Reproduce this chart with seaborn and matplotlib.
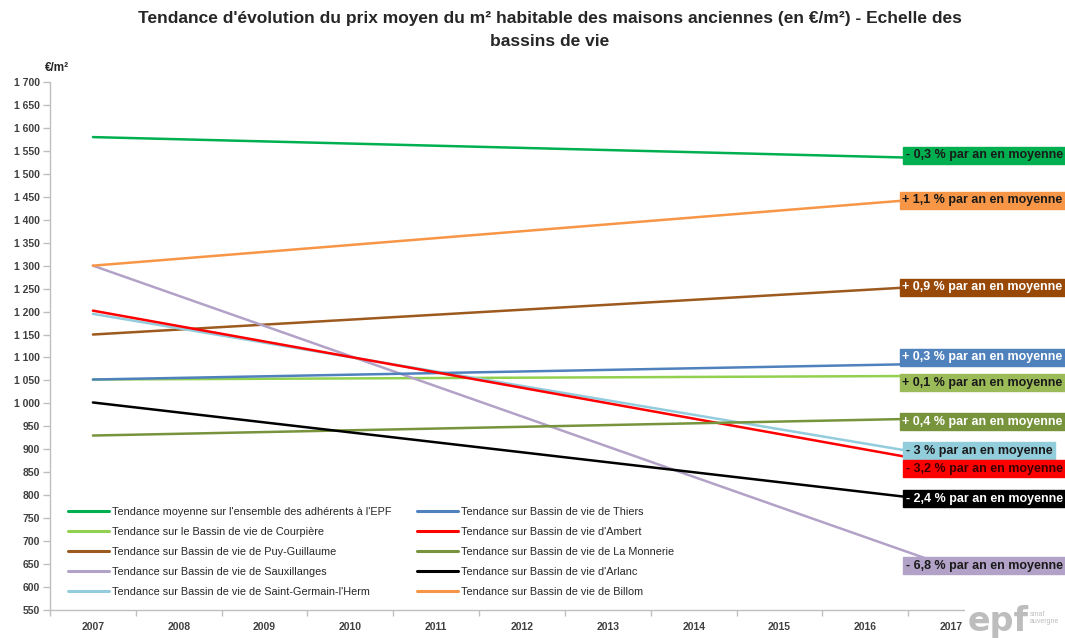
import matplotlib
matplotlib.use("Agg")
import matplotlib.pyplot as plt
import seaborn as sns
import pandas as pd
from matplotlib.ticker import FixedLocator

# Price trend per "bassin de vie" (EUR per m2), start (2007) and end (2017) of each trend line
series = [
    "Tendance moyenne sur l'ensemble des adhérents à l'EPF",
    "Tendance sur le Bassin de vie de Courpière",
    "Tendance sur Bassin de vie de Puy-Guillaume",
    "Tendance sur Bassin de vie de Sauxillanges",
    "Tendance sur Bassin de vie de Saint-Germain-l'Herm",
    "Tendance sur Bassin de vie de Thiers",
    "Tendance sur Bassin de vie d'Ambert",
    "Tendance sur Bassin de vie de La Monnerie",
    "Tendance sur Bassin de vie d'Arlanc",
    "Tendance sur Bassin de vie de Billom",
]
years = [2007, 2017]
start_2007 = [1580, 1052, 1150, 1300, 1195, 1052, 1202, 930, 1002, 1300]
end_2017 = [1533, 1060, 1258, 643, 881, 1087, 866, 968, 785, 1450]
rate_labels = [
    "- 0,3 % par an en moyenne",
    "+ 0,1 % par an en moyenne",
    "+ 0,9 % par an en moyenne",
    "- 6,8 % par an en moyenne",
    "- 3 % par an en moyenne",
    "+ 0,3 % par an en moyenne",
    "- 3,2 % par an en moyenne",
    "+ 0,4 % par an en moyenne",
    "- 2,4 % par an en moyenne",
    "+ 1,1 % par an en moyenne",
]
year_ticks = list(range(2007, 2018))
y_ticks = list(range(550, 1701, 50))

# styling
line_colors = ["#00B050", "#92D050", "#9C5A1E", "#B3A2C7", "#93CDDD",
               "#4F81BD", "#FF0000", "#77933C", "#000000", "#F79646"]
box_colors = ["#00B050", "#9BBB59", "#984807", "#B3A2C7", "#92CDDC",
              "#4F81BD", "#FF0000", "#77933C", "#000000", "#F79646"]
box_text = ["#1a1a1a", "#1a1a1a", "white", "#1a1a1a", "#1a1a1a",
            "white", "#3a0000", "white", "white", "#1a1a1a"]
# vertical anchor of each rate box (EUR/m2 scale)
box_y = [1541, 1045, 1253, 646, 897, 1100, 858, 960, 792, 1442]
box_left = [2016.47, 2016.43, 2016.43, 2016.47, 2016.47,
            2016.43, 2016.47, 2016.43, 2016.47, 2016.43]

rows = []
for name, a, b in zip(series, start_2007, end_2017):
    rows.append({"annee": years[0], "prix": a, "serie": name})
    rows.append({"annee": years[1], "prix": b, "serie": name})
df = pd.DataFrame(rows)

sns.set_theme(style="white")
plt.rcParams["font.family"] = ["Liberation Sans", "DejaVu Sans"]

fig = plt.figure(figsize=(10.65, 6.38), dpi=100)
ax = fig.add_axes([50 / 1065, 1 - 610 / 638, 944 / 1065, 528 / 638])

sns.lineplot(data=df, x="annee", y="prix", hue="serie", hue_order=series,
             palette=dict(zip(series, line_colors)), linewidth=1.8, ax=ax,
             legend=True)

ax.set_xlim(2006.5, 2017.5)
ax.set_ylim(550, 1700)
ax.set_xlabel("")
ax.set_ylabel("")

for s in ["top", "right"]:
    ax.spines[s].set_visible(False)
for s in ["left", "bottom"]:
    ax.spines[s].set_color("#BFBFBF")
    ax.spines[s].set_linewidth(1.0)

ax.yaxis.set_major_locator(FixedLocator(y_ticks))
ax.set_yticklabels([f"{v:,}".replace(",", " ") for v in y_ticks])
ax.xaxis.set_major_locator(FixedLocator(year_ticks))
ax.set_xticklabels([str(y) for y in year_ticks])
ax.xaxis.set_minor_locator(FixedLocator([y - 0.5 for y in year_ticks] + [2017.5]))
ax.tick_params(axis="x", which="major", length=0, pad=9, labelsize=7.5,
               labelcolor="#404040")
ax.tick_params(axis="x", which="minor", length=4, width=1, color="#BFBFBF",
               direction="out", bottom=True)
ax.tick_params(axis="y", which="major", length=5, width=1, color="#BFBFBF",
               direction="out", left=True, pad=2, labelsize=7.5,
               labelcolor="#404040")
for lbl in ax.get_xticklabels() + ax.get_yticklabels():
    lbl.set_fontweight("bold")

# rate boxes at the right end of each trend line
for i in range(len(series)):
    ax.text(box_left[i], box_y[i], rate_labels[i], ha="left", va="center",
            fontsize=9, fontweight="bold", color=box_text[i],
            bbox=dict(boxstyle="square,pad=0.2", fc=box_colors[i],
                      ec=box_colors[i]), clip_on=False, zorder=5)

leg = ax.legend(loc="lower left", bbox_to_anchor=(18 / 944, 13 / 528), ncol=2,
                frameon=False, fontsize=7.8, handlelength=3.8, handletextpad=0.3,
                columnspacing=2.3, labelspacing=0.93, borderaxespad=0,
                borderpad=0)
for t in leg.get_texts():
    t.set_color("#262626")
for h in leg.get_lines():
    h.set_linewidth(2.2)

fig.text(57 / 1065, 1 - 68 / 638, "€/m²", ha="center", va="center",
         fontsize=8.5, fontweight="bold", color="#262626")

fig.text(550 / 1065, 1 - 18 / 638,
         "Tendance d'évolution du prix moyen du m² habitable des maisons anciennes (en €/m²) - Echelle des",
         ha="center", va="center", fontsize=12.5, fontweight="bold", color="#262626")
fig.text(550 / 1065, 1 - 42 / 638, "bassins de vie", ha="center", va="center",
         fontsize=12.5, fontweight="bold", color="#262626")

# logo block
fig.text(968 / 1065, 1 - 622 / 638, "epf", ha="left", va="center", fontsize=24,
         fontweight="bold", color="#BDBDBD", family=["DejaVu Sans"],
         bbox=dict(boxstyle="square,pad=0.1", fc="white", ec="none"))
fig.text(1030 / 1065, 1 - 618 / 638, "smaf\nauvergne", ha="left", va="center",
         fontsize=5, color="#BDBDBD", linespacing=0.9)

fig.savefig("out.png", dpi=100)
